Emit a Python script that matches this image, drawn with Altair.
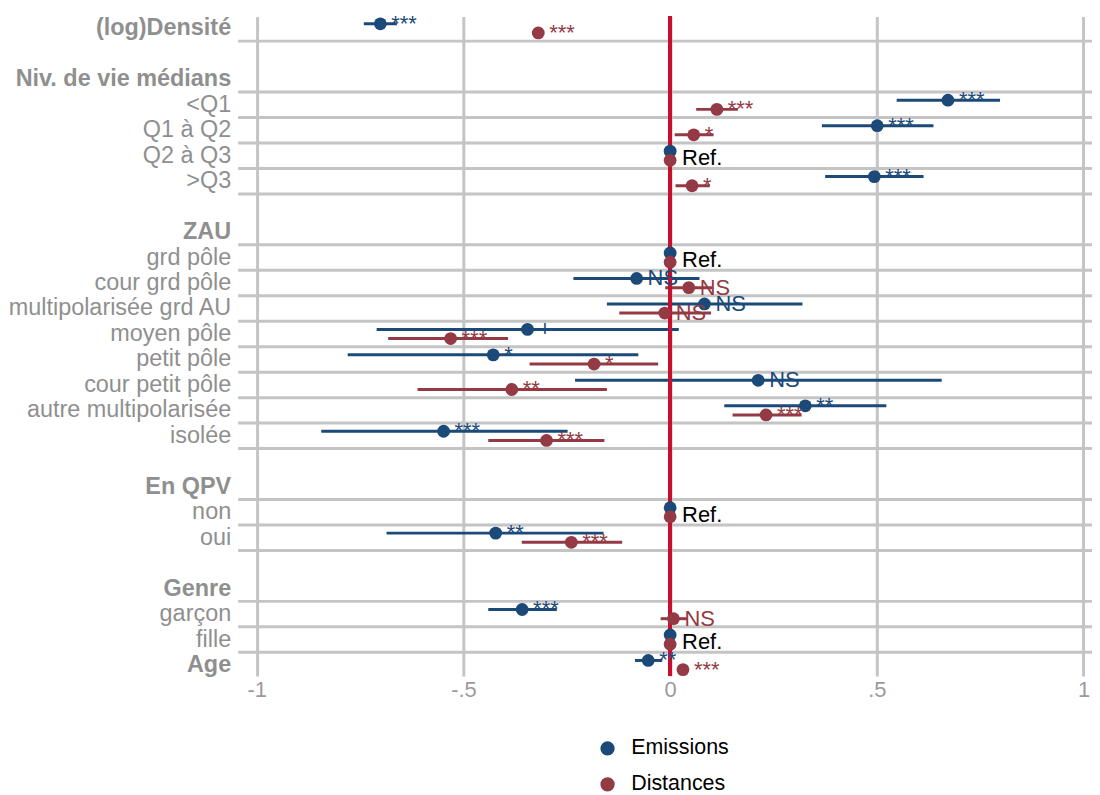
import altair as alt
import pandas as pd

# Row labels (top to bottom); "" = blank spacer row
row_labels = ["(log)Densité", "", "Niv. de vie médians", "<Q1", "Q1 à Q2", "Q2 à Q3", ">Q3",
              "", "ZAU", "grd pôle", "cour grd pôle", "multipolarisée grd AU", "moyen pôle",
              "petit pôle", "cour petit pôle", "autre multipolarisée", "isolée", "",
              "En QPV", "non", "oui", "", "Genre", "garçon", "fille", "Age"]
bold_labels = ["(log)Densité", "Niv. de vie médians", "ZAU", "En QPV", "Genre", "Age"]

# Coefficient rows
variables = ["(log)Densité", "<Q1", "Q1 à Q2", "Q2 à Q3", ">Q3", "grd pôle", "cour grd pôle",
             "multipolarisée grd AU", "moyen pôle", "petit pôle", "cour petit pôle",
             "autre multipolarisée", "isolée", "non", "oui", "garçon", "fille", "Age"]

emis_est = [-0.701, 0.672, 0.501, 0, 0.494, 0, -0.081, 0.083, -0.345, -0.428, 0.213, 0.327, -0.548, 0, -0.422, -0.358, 0, -0.053]
emis_lo = [-0.741, 0.548, 0.367, 0, 0.375, 0, -0.234, -0.153, -0.710, -0.780, -0.230, 0.131, -0.844, 0, -0.686, -0.440, 0, -0.085]
emis_hi = [-0.661, 0.798, 0.637, 0, 0.613, 0, 0.071, 0.320, 0.021, -0.077, 0.657, 0.523, -0.248, 0, -0.161, -0.274, 0, -0.019]
emis_sig = ["***", "***", "***", "Ref.", "***", "Ref.", "NS", "NS", "+", "*", "NS", "**", "***", "Ref.", "**", "***", "Ref.", "**"]

dist_est = [-0.319, 0.113, 0.057, 0, 0.053, 0, 0.045, -0.013, -0.531, -0.184, -0.383, 0.232, -0.299, 0, -0.239, 0.008, 0, 0.031]
dist_lo = [-0.330, 0.063, 0.011, 0, 0.013, 0, -0.012, -0.123, -0.682, -0.340, -0.611, 0.151, -0.440, 0, -0.359, -0.023, 0, 0.025]
dist_hi = [-0.308, 0.164, 0.105, 0, 0.096, 0, 0.102, 0.099, -0.392, -0.029, -0.153, 0.318, -0.159, 0, -0.116, 0.041, 0, 0.037]
dist_sig = ["***", "***", "*", "Ref.", "*", "Ref.", "NS", "NS", "***", "*", "**", "***", "***", "Ref.", "***", "NS", "Ref.", "***"]

series = ["Emissions", "Distances"]
colors = ["#1b4a78", "#943a44"]

tick_values = [-1, -0.5, 0, 0.5, 1]

GRID = "#c4c4c4"
FONT = "Liberation Sans"
W, H = 857, 662

# Build tables
lab_df = pd.DataFrame({"label": row_labels, "row": list(range(len(row_labels)))})
lab_df["bold"] = lab_df["label"].isin(bold_labels)
lab_df = lab_df[lab_df["label"] != ""]
lab_norm = lab_df[~lab_df["bold"]]
lab_bold = lab_df[lab_df["bold"]]

last_row = len(row_labels) - 1
grid_df = pd.DataFrame({"gy": [r + 0.5 for r, l in enumerate(row_labels) if l != "" and r < last_row]})

recs = []
for i, v in enumerate(variables):
    r = row_labels.index(v)
    recs.append(dict(var=v, row=r, series="Emissions", est=emis_est[i], lo=emis_lo[i], hi=emis_hi[i],
                     sig=emis_sig[i], ypos=r - 0.18))
    recs.append(dict(var=v, row=r, series="Distances", est=dist_est[i], lo=dist_lo[i], hi=dist_hi[i],
                     sig=dist_sig[i], ypos=r + 0.18))
df = pd.DataFrame(recs)
ref_df = df[(df["sig"] == "Ref.") & (df["series"] == "Emissions")].copy()
ref_df["ytxt"] = ref_df["row"] + 0.1
sig_df = df[df["sig"] != "Ref."]

xs = alt.Scale(domain=[-1.045, 1.0205], nice=False, zero=False)
ys = alt.Scale(domain=[-0.47, 25.43], reverse=True, nice=False, zero=False)
cs = alt.Scale(domain=series, range=colors)

xaxis = alt.Axis(values=tick_values, grid=True, gridColor=GRID, gridWidth=3,
                 domain=False, ticks=False, labelFontSize=22, labelColor="#9a9a9a", labelFont=FONT,
                 labelPadding=4, title=None,
                 labelExpr="datum.value == -1 ? '-1' : datum.value == -0.5 ? '-.5' : "
                           "datum.value == 0.5 ? '.5' : datum.value == 1 ? '1' : '0'")

legend = alt.Legend(title=None, orient="none", legendX=360, legendY=724,
                    direction="vertical", symbolType="circle", symbolSize=165,
                    symbolOpacity=1, labelFontSize=21.5, labelFont=FONT,
                    labelColor="#000000", labelOffset=13, rowPadding=13,
                    padding=0)
color_enc = alt.Color("series:N", scale=cs, sort=series, legend=legend)

base_x = alt.X("est:Q", scale=xs, axis=xaxis)

hgrid = alt.Chart(grid_df).mark_rule(color=GRID, strokeWidth=3).encode(
    x=alt.value(0), x2=alt.value(W), y=alt.Y("gy:Q", scale=ys, axis=None))

ci = alt.Chart(df).mark_rule(strokeWidth=3).encode(
    x=alt.X("lo:Q", scale=xs, axis=xaxis), x2="hi:Q",
    y=alt.Y("ypos:Q", scale=ys, axis=None),
    color=color_enc)

zero = alt.Chart(df).mark_rule(color="#c8102e", strokeWidth=3).encode(x=alt.datum(0, scale=xs))

pts = alt.Chart(df).mark_circle(size=165, opacity=1).encode(
    x=base_x, y=alt.Y("ypos:Q", scale=ys, axis=None),
    color=color_enc)

sig = alt.Chart(sig_df).mark_text(align="left", baseline="middle", dx=11, font=FONT,
                                   fontSize=22).encode(
    x=base_x, y=alt.Y("ypos:Q", scale=ys, axis=None), text="sig:N",
    color=color_enc)

ref = alt.Chart(ref_df).mark_text(align="left", baseline="middle", dx=12, font=FONT,
                                   fontSize=22, color="#000000").encode(
    x=base_x, y=alt.Y("ytxt:Q", scale=ys, axis=None), text="sig:N")

labels_n = alt.Chart(lab_norm).mark_text(align="right", baseline="middle", font=FONT, fontSize=23.5,
                                         color="#8f8f8f").encode(
    x=alt.value(-7), y=alt.Y("row:Q", scale=ys, axis=None), text="label:N")

labels_b = alt.Chart(lab_bold).mark_text(align="right", baseline="middle", font=FONT, fontSize=23.5,
                                         fontWeight="bold", color="#8f8f8f").encode(
    x=alt.value(-7), y=alt.Y("row:Q", scale=ys, axis=None), text="label:N")

chart = alt.layer(hgrid, ci, zero, pts, sig, ref, labels_n, labels_b).properties(
    width=W, height=H,
    autosize=alt.AutoSizeParams(type="none"),
    padding={"left": 231, "top": 7, "right": 0, "bottom": 118},
).configure_view(stroke=None)

chart.save("out.html", embed_options={"renderer": "svg", "actions": False})
